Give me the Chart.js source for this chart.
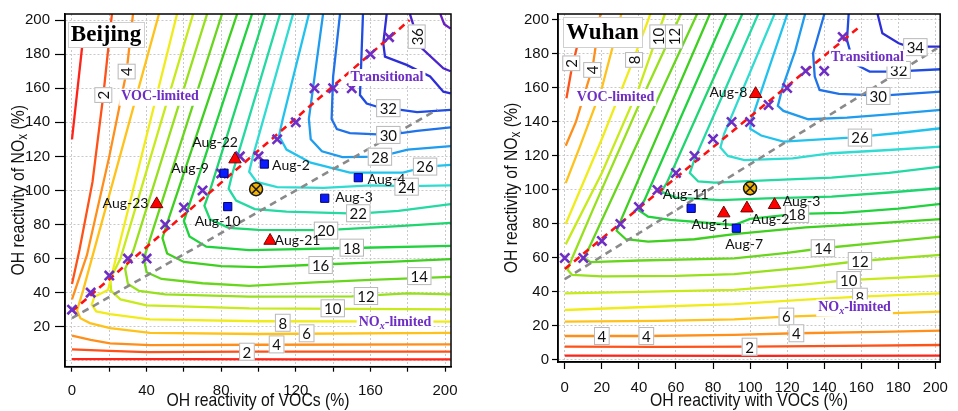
<!DOCTYPE html>
<html><head><meta charset="utf-8">
<script src="https://cdn.jsdelivr.net/npm/chart.js@4.4.1/dist/chart.umd.min.js"></script>
<style>
html,body{margin:0;padding:0;background:#fff;width:958px;height:411px;overflow:hidden}
.w{position:absolute;top:0;height:411px}
#a{left:0;width:470px}
#b{left:480px;width:478px}
</style></head><body>
<div class="w" id="a"><canvas id="c1"></canvas></div>
<div class="w" id="b"><canvas id="c2"></canvas></div>
<script>
// ---------------- DATA ----------------
const tickValues = [0,20,40,60,80,100,120,140,160,180,200];
const bjXLabelValues = [0,40,80,120,160,200];

// Beijing contour polylines [x (VOC %), y (NOx %)]
const bj1a = [[5.4,184],[0,130]];
const bj1b = [[0,1],[60,0.9],[120,0.8],[203,0.8]];
const bj2a = [[21.4,203.5],[16.8,156],[11,105],[4,65],[0,45]];
const bj2b = [[0,6.7],[20,5.8],[40,5.1],[95,5.3],[203,5.3]];
const bj4a = [[32.7,203.5],[29.3,170],[20,120],[8,62],[0,36]];
const bj4b = [[0,14.7],[10,12.2],[20.4,10.2],[42,9.2],[100,9.4],[203,9.6]];
const bj6 = [[46.6,203.5],[6,41.5],[2.7,29.5],[4.5,25],[9.6,22.1],[20.4,19.2],[41.8,16.4],[100,15.7],[203,16.4]];
const bj8 = [[56.3,203.5],[19.3,41.5],[12,37.6],[10.6,33],[13,29],[20.4,27.4],[41.8,24.3],[100,23.2],[203,23]];
const bj10 = [[64.9,203.5],[26,60],[20.5,48],[21,41],[26,36],[40,32.5],[95,30.8],[150,30.5],[203,30.2]];
const bj12 = [[72.4,203.5],[33,65],[28.5,54],[30,45],[36,41],[50,39],[95,37.6],[150,37.8],[180,39.5],[203,39]];
const bj14 = [[80.4,203.5],[42,72],[38.5,60],[40,52],[48,48],[70,45.5],[95,44],[130,46],[160,47.5],[203,49.3]];
const bj16 = [[88.5,203.5],[52,84],[48.5,72],[51,63],[60,58],[80,55.5],[100,55],[133,56.5],[170,58],[203,59.7]];
const bj18 = [[96.5,203.5],[63,92],[60,82],[63,73],[72,67],[95,65],[150,66.2],[203,67.5]];
const bj20 = [[103.5,203.5],[74,100],[71,91],[74,83],[84,78],[100,76.8],[136,76.7],[175,79],[203,81]];
const bj22 = [[111.5,203.5],[86,110],[84,101],[88,94],[98,89],[115,87.5],[153,86.4],[175,88],[203,92]];
const bj24 = [[118.5,203.5],[97,120],[95,111],[99,105],[110,102],[135,101.5],[160,103],[180,102.5],[203,103]];
const bj26 = [[127,203.5],[113,142],[111,132],[115,124],[128,116.3],[149,110.5],[177.5,110.5],[190,114],[203,115]];
const bj28 = [[134.6,203.5],[127,142],[128,130],[134,123],[145,119.6],[165,119.8],[180,124],[203,126]];
const bj30 = [[143.7,203.5],[140,166.8],[139.2,142],[142,136],[149,133.6],[169.6,132.6],[185,135],[203,137]];
const bj32 = [[156,203.5],[154.8,166.8],[154.4,156],[158,151],[164,149],[169.6,148.3],[185,146],[203,147.3]];
const bj34 = [[168.7,203.5],[166.9,186.4],[167.8,178.6],[179.4,173.7],[192,166.9],[199.1,158],[203,157]];
const bj36 = [[181.2,203.5],[186.6,184.4],[199.1,171.7],[203,170]];
const bj38 = [[197.5,203.5],[199.6,197.6],[203,195]];
const bjContours = [[1,bj1a],[1,bj1b],[2,bj2a],[2,bj2b],[4,bj4a],[4,bj4b],[6,bj6],[8,bj8],[10,bj10],[12,bj12],[14,bj14],[16,bj16],[18,bj18],[20,bj20],[22,bj22],[24,bj24],[26,bj26],[28,bj28],[30,bj30],[32,bj32],[34,bj34],[36,bj36],[38,bj38]];

// Wuhan contour polylines
const wh1 = [[0,2.5],[100,2.4],[203,2.6]];
const wh2a = [[6.6,184.3],[3.5,170],[0.9,153.9]];
const wh2b = [[0,7.8],[50,7.7],[99.7,7.8],[150,8.3],[203,8.8]];
const wh4a = [[19.2,203.5],[15,172],[6,140],[0.5,126]];
const wh4b = [[0,14.1],[44,14.1],[91.4,14.7],[125,15.7],[170,16.5],[203,17.2]];
const wh6a = [[30.5,203.5],[20,160],[8,125],[0.5,104]];
const wh6b = [[0,22.5],[50,23],[91.4,23.9],[119.6,25.5],[160,27],[203,28.4]];
const wh8a = [[46.2,203.5],[37,176.5],[20,130],[0.5,80]];
const wh8b = [[0,29.4],[40,31],[91.4,32.9],[130,35.5],[159.3,37.2],[203,39.2]];
const wh10a = [[54,203.5],[40,160],[20,110],[0.5,68]];
const wh10b = [[0,39.2],[40,40],[91.4,41.2],[130,44.5],[153,47],[203,49.6]];
const wh12 = [[62.7,203.5],[40,150],[15,88],[4,60],[1.5,53],[4,50],[20,49.2],[60,49.5],[91.4,50.5],[130,54.5],[159,58.2],[203,61.8]];
const wh14 = [[71.4,203.5],[14,68],[10.5,60],[14,57.5],[40,58.5],[91.4,59.8],[120,63],[139,65.7],[170,69],[203,72.5]];
const wh16 = [[78.3,203.5],[31,84],[28,76],[33,71],[45,69.6],[70,71],[91.4,74],[130,78],[170,80.5],[203,82.8]];
const wh18 = [[87.1,203.5],[43,94],[40,88],[45,84.3],[57,82.4],[91.4,79.4],[100,83],[125,85.9],[150,86.5],[180,89],[203,91.8]];
const wh20 = [[95.8,203.5],[55,104],[52,99],[60,95.5],[84,94],[109,95],[144,96.1],[175,98.5],[203,101]];
const wh22 = [[104.4,203.5],[70,118],[67.5,110],[72,105],[81,104.3],[102,105.3],[144,107.3],[175,110],[203,113.7]];
const wh24 = [[113.2,203.5],[86,133],[84,125],[88,120],[97,117.6],[123,118.6],[144,121.6],[175,123.5],[203,125.5]];
const wh26 = [[120.1,203.5],[101,142],[100,136],[106,132],[118,128.4],[154,130.8],[180,133.5],[203,136.3]];
const wh28 = [[129.7,203.5],[124.4,182],[117.5,160.2],[115,149.4],[118,146.5],[131.4,141.6],[152.3,142.5],[174.9,144.5],[203,147.1]];
const wh30 = [[140.1,203.5],[134,180.4],[134.9,166.7],[137.5,158.8],[148,156.5],[161,155.9],[169,155.3],[203,157.8]];
const wh32 = [[153.2,203.5],[152.3,188.2],[155.8,174.5],[164.5,169.6],[176.7,169.6],[203,171]];
const wh34 = [[168.8,203.5],[171.4,192.2],[180.2,186.3],[185.4,184.3],[203,184.3]];
const whContours = [[1,wh1],[2,wh2a],[2,wh2b],[4,wh4a],[4,wh4b],[6,wh6a],[6,wh6b],[8,wh8a],[8,wh8b],[10,wh10a],[10,wh10b],[12,wh12],[14,wh14],[16,wh16],[18,wh18],[20,wh20],[22,wh22],[24,wh24],[26,wh26],[28,wh28],[30,wh30],[32,wh32],[34,wh34]];

// scenario points
const bjCrossX = [0,10,20,30,40,50,60,70,80,90,100,110,120,130,140,150,160,170];
const bjCrossY = [30,40,50,60,60,80,90,100,110,120,120,130,140,160,160,160,180,190];
const bjTriX = [87.4,45.4,106.2];
const bjTriY = [118.3,92,70.5];
const bjSqX = [81.5,103.1,83.5,153.5,135.5];
const bjSqY = [110.1,115.5,90.5,107.5,95.4];
const bjBase = [98.7,100.7];
const bjRedLine = [[0,29],[181,200]];
const bjGrayLine = [[0,25],[196,147.5]];

const whCrossX = [0,10,20,30,40,50,60,70,80,90,100,110,120,130,140,150];
const whCrossY = [60,60,70,80,90,100,110,120,130,140,140,150,160,170,170,190];
const whTriX = [103,85.8,98.3,113.2];
const whTriY = [156.5,86.3,89.2,91.2];
const whSqX = [68.2,92.6];
const whSqY = [89.2,77.5];
const whBase = [100,101];
const whRedLine = [[0,53.5],[158,195]];
const whGrayLine = [[0,47.5],[201,183.4]];

// text annotations (placed in data coordinates)
const bjDates = [['Aug-22',76.7,127.9],['Aug-9',63.3,112.6],['Aug-2',117.4,114.4],['Aug-10',78.1,81.9],['Aug-21',120.9,70.9],['Aug-3',151.2,95.6],['Aug-4',168.6,106.7],['Aug-23',28.7,92.6]];
const whDates = [['Aug-8',88.3,157.6],['Aug-11',65.3,97.1],['Aug-1',78.6,79.4],['Aug-7',96.8,68.2],['Aug-2',111.0,82.4],['Aug-3',127.8,93]];
const bjLevelLabels = [['2',16.8,156,1],['4',29.3,169.8,1],['36',184.8,190.3,1],['32',169.6,148.3],['30',169.6,132.6],['28',165.1,119.8],['26',189.3,114],['24',179.4,102.2],['22',153.5,86.6],['20',136.2,76.4],['18',150,66.4],['16',133.3,56.2],['14',186.2,49.7],['12',157.6,38],['10',139.8,30.8],['8',113,22.3],['6',125.8,16.1],['4',109.7,9.6],['2',93.8,5.3]];
const whLevelLabels = [['2',3.5,174.5,1],['4',14.8,170.6,1],['8',37.4,176.5,1],['10',50.5,190.2,1],['12',58.9,190.2,1],['34',189.2,184],['32',180.2,170.6],['30',169.2,155.3],['26',159.3,130.8],['18',125.3,85.9],['14',139.3,65.7],['12',159.3,58.2],['10',153.2,47],['8',159.3,37.2],['6',119.6,25.5],['4',20,14.1],['4',44,14.1],['4',125,15.7],['2',99.7,7.8]];
const bjRegions = [['VOC',47.2,155],['Transitional',168.9,166.6],['NOx',173.2,22.4]];
const whRegions = [['VOC',27.4,154.7],['Transitional',163.4,177.9],['NOx',156.4,30.9]];

// ---------------- STYLE ----------------
const levelColors = {1:'#ff2318',2:'#ff5219',4:'#ff8f1a',6:'#ffc21a',8:'#f0ec1a',10:'#c6ea1a',12:'#97e01c',14:'#69d61e',16:'#3fcf1f',18:'#20d23c',20:'#1fd570',22:'#24d9a2',24:'#30dcd2',26:'#22c2ee',28:'#1f9cee',30:'#1f72e8',32:'#1f4ce2',34:'#2e2ed8',36:'#4b24ce',38:'#6a1fc6'};
const AX = "'Liberation Sans',Arial,sans-serif";
const SERIF = "'Liberation Serif','Times New Roman',serif";
const SANS = "Lato,'Liberation Sans',sans-serif";
const PURPLE = '#6e2dc4';

const pts = a => a.map(p => ({x:p[0], y:p[1]}));
const zip = (xs, ys) => xs.map((x,i) => ({x, y:ys[i]}));

function drawRich(ctx, parts, x, y) {
  let total = 0;
  for (const p of parts) { ctx.font = p[1]; total += ctx.measureText(p[0]).width; }
  let cx = x - total/2;
  ctx.textAlign = 'left';
  for (const p of parts) { ctx.font = p[1]; ctx.fillText(p[0], cx, y + (p[2]||0)); cx += ctx.measureText(p[0]).width; }
  return total;
}

function annotPlugin(cfg) {
  return {
    id: 'annot_' + cfg.id,
    afterDatasetsDraw(chart) {
      const ctx = chart.ctx, xs = chart.scales.x, ys = chart.scales.y, ca = chart.chartArea;
      const px = (x,y) => [xs.getPixelForValue(x), ys.getPixelForValue(y)];
      ctx.save();
      ctx.beginPath(); ctx.rect(ca.left, ca.top, ca.width, ca.height); ctx.clip();
      // contour level labels
      ctx.textBaseline = 'middle'; ctx.textAlign = 'center';
      for (const L of cfg.levelLabels) {
        const [x,y] = px(L[1], L[2]);
        ctx.save(); ctx.translate(x,y); if (L[3]) ctx.rotate(-Math.PI/2);
        ctx.font = '15px ' + SANS;
        const w = ctx.measureText(L[0]).width + 7, h = 18;
        ctx.fillStyle = '#fff'; ctx.fillRect(-w/2, -h/2, w, h);
        ctx.strokeStyle = '#b8b8b8'; ctx.lineWidth = 1; ctx.strokeRect(-w/2+0.5, -h/2+0.5, w-1, h-1);
        ctx.fillStyle = '#111'; ctx.fillText(L[0], 0, 1);
        ctx.restore();
      }
      // date labels
      ctx.font = '14px ' + SANS; ctx.fillStyle = '#111'; ctx.textAlign = 'center'; ctx.textBaseline = 'middle';
      for (const d of cfg.dates) { const [x,y] = px(d[1], d[2]); ctx.fillText(d[0], x, y); }
      // regime labels
      const B = 'bold 14px ' + SERIF;
      for (const r of cfg.regions) {
        const [x,y] = px(r[1], r[2]);
        let parts;
        if (r[0] === 'VOC') parts = [['VOC-limited', B]];
        else if (r[0] === 'NOx') parts = [['NO', B], ['x', 'bold italic 10px ' + SERIF, 4], ['-limited', B]];
        else parts = [['Transitional', B]];
        let w = 0; for (const p of parts) { ctx.font = p[1]; w += ctx.measureText(p[0]).width; }
        ctx.fillStyle = '#fff'; ctx.fillRect(x - w/2 - 2, y - 8, w + 4, 17);
        ctx.fillStyle = PURPLE; ctx.textBaseline = 'middle';
        drawRich(ctx, parts, x, y);
      }
      ctx.restore();
      // panel title
      ctx.save();
      const t = cfg.titleBox;
      ctx.fillStyle = '#fff'; ctx.fillRect(ca.left + t[0], ca.top + t[1], t[2], t[3]);
      ctx.strokeStyle = '#d0d0d0'; ctx.lineWidth = 1; ctx.strokeRect(ca.left + t[0] + 0.5, ca.top + t[1] + 0.5, t[2], t[3]);
      ctx.fillStyle = '#000'; ctx.font = 'bold 23px ' + SERIF; ctx.textAlign = 'center'; ctx.textBaseline = 'middle';
      ctx.fillText(cfg.title, ca.left + t[0] + t[2]/2, ca.top + t[1] + t[3]/2 + 1);
      // frame
      ctx.strokeStyle = '#000'; ctx.lineWidth = 1.5;
      ctx.strokeRect(ca.left, ca.top, ca.width, ca.height);
      ctx.restore();
    },
    afterDraw(chart) {
      const ctx = chart.ctx, ca = chart.chartArea;
      const SX = 0.83;
      ctx.save();
      ctx.fillStyle = '#111'; ctx.textBaseline = 'middle';
      const F = '19px ' + AX;
      ctx.save();
      ctx.translate((ca.left + ca.right)/2, 401);
      ctx.scale(SX, 1);
      drawRich(ctx, [[cfg.xTitle, F]], 0, 0);
      ctx.restore();
      ctx.translate(cfg.yTitleX, (ca.top + ca.bottom)/2);
      ctx.rotate(-Math.PI/2);
      ctx.scale(SX, 1);
      drawRich(ctx, [['OH reactivity of NO', F], ['x', '14px ' + AX, 4], [' (%)', F]], 0, 0);
      ctx.restore();
    }
  };
}

function buildChart(cfg) {
  const ds = [];
  ds.push({data: [{x:cfg.base[0], y:cfg.base[1]}], pointStyle:'crossRot', pointRadius:6, borderColor:'#1a1a1a', backgroundColor:'#1a1a1a', pointBorderWidth:1.6, borderWidth:1.6, order:0});
  ds.push({data: [{x:cfg.base[0], y:cfg.base[1]}], pointStyle:'circle', pointRadius:6.5, backgroundColor:'#f6b400', borderColor:'#1a1a1a', pointBorderWidth:1.5, borderWidth:1.5, order:0.5});
  ds.push({data: zip(cfg.triX, cfg.triY), pointStyle:'triangle', pointRadius:7.2, backgroundColor:'#ff0000', borderColor:'#7a0000', pointBorderWidth:1, borderWidth:1, order:1});
  ds.push({data: zip(cfg.sqX, cfg.sqY), pointStyle:'rect', pointRadius:5.8, backgroundColor:'#0a1cff', borderColor:'#00006e', pointBorderWidth:1, borderWidth:1, order:1});
  ds.push({data: zip(cfg.crossX, cfg.crossY), pointStyle:'crossRot', pointRadius:6.5, borderColor:PURPLE, backgroundColor:PURPLE, pointBorderWidth:2.6, borderWidth:2.6, order:1.5});
  ds.push({data: pts(cfg.red), showLine:true, pointRadius:0, borderColor:'#ff1010', borderWidth:2.6, borderDash:[7,5], order:2});
  ds.push({data: pts(cfg.gray), showLine:true, pointRadius:0, borderColor:'#8a8a8a', borderWidth:2.6, borderDash:[7,5], order:2});
  for (const c of cfg.contours) {
    ds.push({data: pts(c[1]), showLine:true, pointRadius:0, borderColor: levelColors[c[0]], borderWidth:2.3, order:3});
  }
  const gridOpt = (tl, hideZeroTick) => ({color:'#c9c9c9', lineWidth:1, drawTicks:true, tickLength:tl,
    tickColor: c => (hideZeroTick && c.tick && c.tick.value === 0) ? 'rgba(0,0,0,0)' : '#000',
    tickWidth:1.2, tickBorderDash:[]});
  const border = {display:true, color:'#000', width:1.5, dash:[2,2]};
  const tickFont = {family: AX, size: 15};
  new Chart(document.getElementById(cfg.id), {
    type: 'scatter',
    data: {datasets: ds},
    options: {
      responsive: true, maintainAspectRatio: false, animation: false, events: [],
      layout: {padding: {top: cfg.padTop, right: cfg.padRight, left: 0, bottom: 0}},
      plugins: {legend: {display:false}, tooltip: {enabled:false}},
      scales: {
        x: {type:'linear', min: cfg.xMin, max: cfg.xMax,
            afterBuildTicks: s => { s.ticks = tickValues.map(v => ({value:v})); },
            afterFit: s => { s.height = cfg.xAxisH; },
            ticks: {autoSkip:false, maxRotation:0, padding: cfg.xTickPad, color:'#111', font: tickFont,
                    callback: v => cfg.xLabels.includes(v) ? String(v) : ''},
            grid: gridOpt(cfg.xTickLen, false), border},
        y: {type:'linear', min: cfg.yMin, max: cfg.yMax,
            afterBuildTicks: s => { s.ticks = tickValues.map(v => ({value:v})); },
            afterFit: s => { s.width = cfg.yAxisW; },
            ticks: {autoSkip:false, padding: cfg.yTickPad, color:'#111', font: tickFont,
                    callback: v => cfg.yLabels.includes(v) ? String(v) : ''},
            grid: gridOpt(cfg.yTickLen, !cfg.yLabels.includes(0)), border}
      }
    },
    plugins: [annotPlugin(cfg)]
  });
}

buildChart({
  id:'c1', title:'Beijing', titleBox:[3,8,76,25], xTitle:'OH reactivity of VOCs (%)', yTitleX:19,
  contours: bjContours, crossX: bjCrossX, crossY: bjCrossY, triX: bjTriX, triY: bjTriY, sqX: bjSqX, sqY: bjSqY,
  base: bjBase, red: bjRedLine, gray: bjGrayLine, dates: bjDates, levelLabels: bjLevelLabels, regions: bjRegions,
  xLabels: bjXLabelValues, yLabels: tickValues.filter(v => v > 0),
  xMin:-3.75, xMax:203.2, yMin:-3.5, yMax:203.6,
  padTop:14, padRight:19, yAxisW:65, xAxisH:44.3, xTickLen:5, xTickPad:10, yTickLen:10, yTickPad:5
});
buildChart({
  id:'c2', title:'Wuhan', titleBox:[5,3,79,30], xTitle:'OH reactivity with VOCs (%)', yTitleX:32,
  contours: whContours, crossX: whCrossX, crossY: whCrossY, triX: whTriX, triY: whTriY, sqX: whSqX, sqY: whSqY,
  base: whBase, red: whRedLine, gray: whGrayLine, dates: whDates, levelLabels: whLevelLabels, regions: whRegions,
  xLabels: tickValues, yLabels: tickValues,
  xMin:-3.66, xMax:202.6, yMin:-1.2, yMax:203.5,
  padTop:14, padRight:5, yAxisW:78, xAxisH:49, xTickLen:7, xTickPad:10, yTickLen:6, yTickPad:3
});
</script></body></html>
